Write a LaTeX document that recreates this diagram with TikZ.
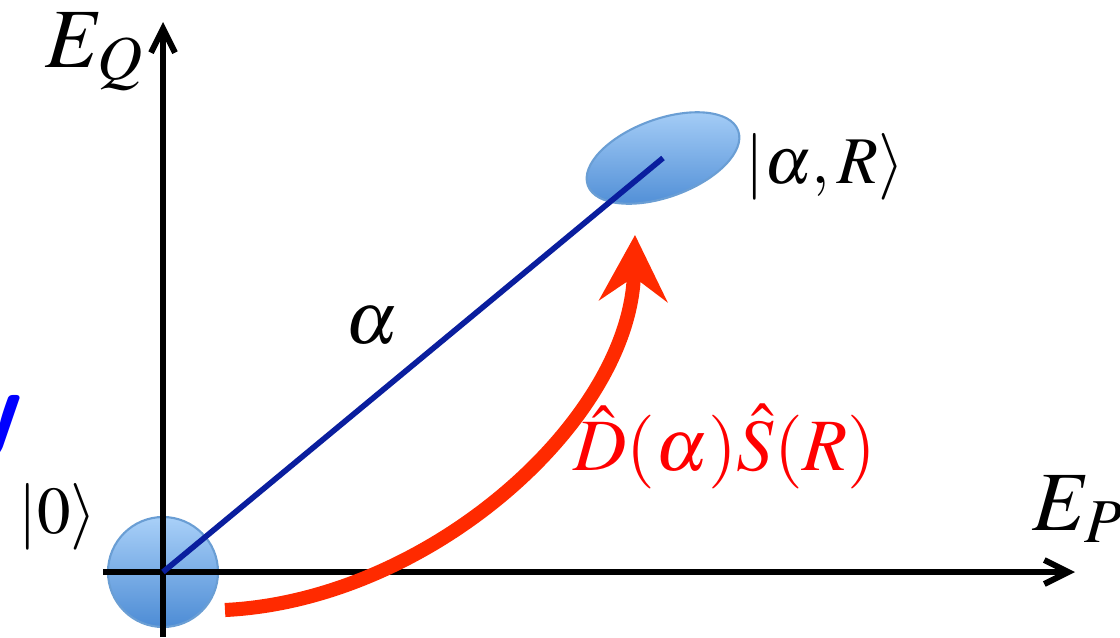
\documentclass[tikz,border=0pt]{standalone}
\usepackage{mathptmx}
\usepackage{xcolor}
\usepackage{tikz}
\usetikzlibrary{arrows.meta,positioning,shapes.geometric}
\definecolor{azul}{HTML}{0A1E9E}
\definecolor{vermelho}{HTML}{FF2A00}
\definecolor{celeste}{HTML}{A9D0F8}
\definecolor{celesteesc}{HTML}{4D8CD5}
\definecolor{borda}{HTML}{6A9ED4}

\begin{document}
\begin{tikzpicture}[
    eixo/.style={-{Straight Barb[length=2.4mm, width=2.4mm]}, line width=1.7pt},
    estado/.style={draw=borda, line width=0.6pt, top color=celeste, bottom color=celesteesc, inner sep=0pt},
    rotulo/.style={inner sep=0pt, font=\fontsize{19}{23}\selectfont},
    seta/.style={-{Stealth[length=6.6mm, width=6.8mm, inset=2.4mm]}, line width=4pt, vermelho}
  ]
    \useasboundingbox (0,0) rectangle (11.2,6.37);
    \node[estado, circle, minimum size=1.1cm] (vacuo) at (1.63,0.65) {};
    \node[estado, ellipse, minimum width=1.6cm, minimum height=0.78cm, rotate=20] (comprimido) at (6.63,4.79) {};
    \coordinate (q0) at (1.63,0); \coordinate (q1) at (1.63,6.15);
    \coordinate (p0) at (1.03,0.65); \coordinate (p1) at (10.75,0.65);
    \draw[eixo] (q0) -- (q1); \draw[eixo] (p0) -- (p1);
    \draw[azul, line width=1.6pt] (vacuo.center) -- (comprimido.center);
    \coordinate (ini) at (2.25,0.27); \coordinate (fim) at (6.35,4.02);
    \draw[seta] (ini) .. controls (4.30,0.37) and (6.30,2.17) .. (fim);
    \node[rotulo, font=\fontsize{24}{28}\selectfont, anchor=base west] (eq) at (0.45,5.70) {$E_Q$};
    \node[rotulo, font=\fontsize{24}{28}\selectfont, anchor=base west] (ep) at (10.32,1.07) {$E_P$};
    \node[rotulo, anchor=base west] (ket0) at (0.18,1.04) {$|0\rangle$};
    \node[rotulo, font=\fontsize{21}{25}\selectfont] (a) at (3.72,3.11) {$\alpha$};
    \node[rotulo, anchor=base west] (ketar) at (7.45,4.54) {$|\alpha,R\rangle$};
    \node[rotulo, font=\fontsize{21}{25}\selectfont, anchor=base, text=red] (op) at (7.25,1.67) {$\hat{D}(\alpha)\hat{S}(R)$};
    \node[anchor=north east, inner sep=0pt, text=blue, font=\fontsize{28}{30}\selectfont\sffamily\bfseries] (canto) at (0.23,2.42) {y};
  \end{tikzpicture}
\end{document}
